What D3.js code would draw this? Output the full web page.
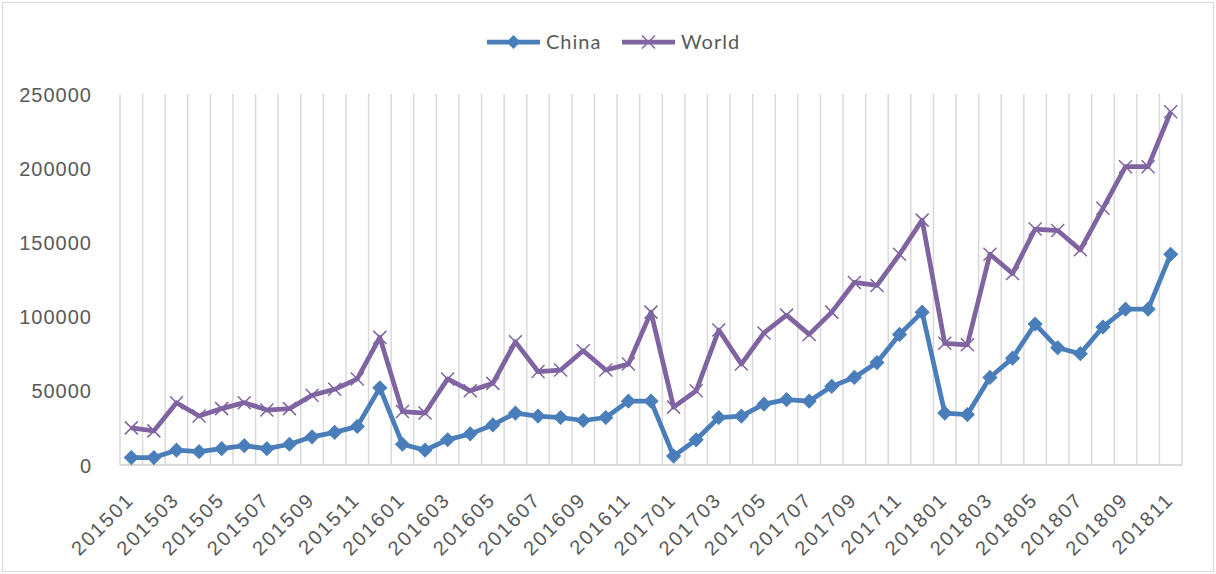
<!DOCTYPE html>
<html>
<head>
<meta charset="utf-8">
<script src="https://cdn.jsdelivr.net/npm/d3@7"></script>
<style>
  html, body { margin: 0; padding: 0; background: #fff; }
  svg { display: block; font-family: Lato, "Open Sans", "Liberation Sans", sans-serif; }
</style>
</head>
<body>
<svg id="chart" width="1216" height="574"></svg>
<script>
// Monthly periods, January 2015 to November 2018
const months = [
  "201501","201502","201503","201504","201505","201506","201507","201508","201509","201510","201511","201512",
  "201601","201602","201603","201604","201605","201606","201607","201608","201609","201610","201611","201612",
  "201701","201702","201703","201704","201705","201706","201707","201708","201709","201710","201711","201712",
  "201801","201802","201803","201804","201805","201806","201807","201808","201809","201810","201811"
];

const china = [
  5000, 5000, 10000, 9000, 11000, 13000, 11000, 14000, 19000, 22000, 26000, 52000,
  14000, 10000, 17000, 21000, 27000, 35000, 33000, 32000, 30000, 32000, 43000, 43000,
  6000, 17000, 32000, 33000, 41000, 44000, 43000, 53000, 59000, 69000, 88000, 103000,
  35000, 34000, 59000, 72000, 95000, 79000, 75000, 93000, 105000, 105000, 142000
];

const world = [
  25000, 23000, 42000, 33000, 38000, 42000, 37000, 38000, 47000, 51000, 58000, 86000,
  36000, 35000, 58000, 50000, 55000, 83000, 63000, 64000, 77000, 64000, 68000, 103000,
  39000, 50000, 91000, 68000, 89000, 101000, 88000, 103000, 123000, 121000, 142000, 165000,
  82000, 81000, 142000, 129000, 159000, 158000, 145000, 173000, 201000, 201000, 238000
];

const yTicks = [0, 50000, 100000, 150000, 200000, 250000];
const xTickLabels = months.filter((m, i) => i % 2 === 0);

const seriesNames = ["China", "World"];
const colors = { China: "#4a7ebb", World: "#8064a2" };

const svg = d3.select("#chart");
const W = 1216, H = 574;
const margin = { left: 120, right: 34, top: 94, bottom: 109 };

// Outer chart border
svg.append("rect")
  .attr("x", 2.5).attr("y", 2.5)
  .attr("width", W - 5).attr("height", H - 5)
  .attr("fill", "#fff").attr("stroke", "#d9d9d9").attr("stroke-width", 1);

const x = d3.scaleBand().domain(months).range([margin.left, W - margin.right]).padding(0);
const y = d3.scaleLinear().domain([0, 250000]).range([H - margin.bottom, margin.top]);

// Vertical gridlines between categories
const grid = svg.append("g").attr("class", "grid");
const edges = months.map(m => x(m)).concat([x.range()[1]]);
grid.selectAll("line").data(edges).join("line")
  .attr("x1", d => d).attr("x2", d => d)
  .attr("y1", y(250000)).attr("y2", y(0))
  .attr("stroke", "#d9d9d9").attr("stroke-width", 1.5);

// Category axis baseline
svg.append("line")
  .attr("x1", x.range()[0]).attr("x2", x.range()[1])
  .attr("y1", y(0)).attr("y2", y(0))
  .attr("stroke", "#d9d9d9").attr("stroke-width", 2);

// Value axis
const yAxis = svg.append("g")
  .attr("transform", `translate(${margin.left - 28},0)`)
  .call(d3.axisLeft(y).tickValues(yTicks).tickSize(0).tickPadding(0).tickFormat(d3.format("d")));
yAxis.select(".domain").remove();
yAxis.selectAll("text")
  .attr("fill", "#595959").attr("font-size", 20).attr("letter-spacing", 1)
  .attr("dy", "0.35em");

// Category axis labels, every second month, rotated
const xAxis = svg.append("g")
  .attr("transform", `translate(0,${y(0)})`)
  .call(d3.axisBottom(x).tickValues(xTickLabels).tickSize(0).tickPadding(0));
xAxis.select(".domain").remove();
xAxis.selectAll("text")
  .attr("fill", "#595959").attr("font-size", 20).attr("letter-spacing", 2)
  .attr("text-anchor", "end")
  .attr("dy", null).attr("y", 0)
  .attr("transform", "translate(4,36) rotate(-45)");

// Series lines
const line = d3.line().x((d, i) => x(months[i]) + x.bandwidth() / 2).y(d => y(d));
const seriesData = { China: china, World: world };

const diamond = d3.symbol().type(d3.symbolSquare).size(95);
const cross = "M-6.5,-6.5L6.5,6.5M-6.5,6.5L6.5,-6.5";

seriesNames.forEach(name => {
  const vals = seriesData[name];
  const g = svg.append("g").attr("class", "series");
  g.append("path").datum(vals)
    .attr("d", line)
    .attr("fill", "none")
    .attr("stroke", colors[name])
    .attr("stroke-width", 4.75)
    .attr("stroke-linejoin", "round");
  const pts = g.selectAll(".pt").data(vals).join("path")
    .attr("class", "pt")
    .attr("transform", (d, i) => `translate(${x(months[i]) + x.bandwidth() / 2},${y(d)})` + (name === "China" ? " rotate(45)" : ""));
  if (name === "China") {
    pts.attr("d", diamond()).attr("fill", colors[name]).attr("stroke", colors[name]).attr("stroke-width", 1);
  } else {
    pts.attr("d", cross).attr("fill", "none").attr("stroke", colors[name]).attr("stroke-width", 1.5);
  }
});

// Legend
const legend = svg.append("g").attr("class", "legend");
const legendItems = [
  { name: "China", x0: 487 },
  { name: "World", x0: 622 }
];
legendItems.forEach(item => {
  const lg = legend.append("g").attr("transform", `translate(${item.x0},42)`);
  lg.append("line").attr("x1", 0).attr("x2", 53).attr("y1", 0).attr("y2", 0)
    .attr("stroke", colors[item.name]).attr("stroke-width", 4.75);
  if (item.name === "China") {
    lg.append("path").attr("d", diamond()).attr("transform", "translate(26.5,0) rotate(45)")
      .attr("fill", colors[item.name]);
  } else {
    lg.append("path").attr("d", cross).attr("transform", "translate(26.5,0)")
      .attr("fill", "none").attr("stroke", colors[item.name]).attr("stroke-width", 1.5);
  }
  lg.append("text").attr("x", 59).attr("y", 0).attr("dy", "0.35em")
    .attr("fill", "#595959").attr("font-size", 20).attr("letter-spacing", 1).text(item.name);
});
</script>
</body>
</html>
